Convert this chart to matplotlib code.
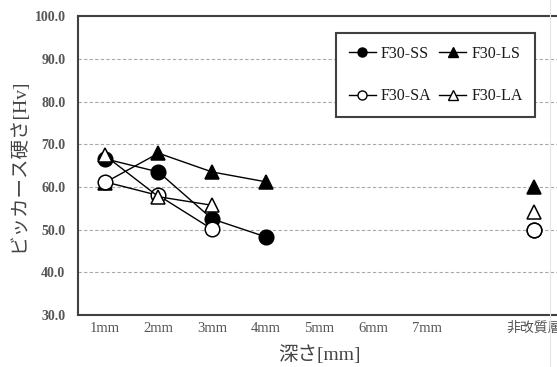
import numpy as np
import matplotlib
matplotlib.use("Agg")
import matplotlib.pyplot as plt
from matplotlib.lines import Line2D

plt.rcParams['font.family'] = ['Liberation Serif', 'Noto Sans CJK JP']

# categories along the depth axis (8th slot is empty in the original)
categories = ['1mm', '2mm', '3mm', '4mm', '5mm', '6mm', '7mm', '', '非改質層']
nan = np.nan
ss = [66.6, 63.5, 52.5, 48.3, nan, nan, nan, nan, 49.9]
ls = [61.0, 67.9, 63.5, 61.2, nan, nan, nan, nan, 60.0]
sa = [61.2, 58.0, 50.1, nan, nan, nan, nan, nan, 49.9]
la = [67.4, 57.7, 55.7, nan, nan, nan, nan, nan, 54.2]
yticks = [30, 40, 50, 60, 70, 80, 90, 100]

x = np.arange(1, len(categories) + 1)

fig = plt.figure(figsize=(5.57, 3.67), dpi=100)
ax = fig.add_axes([0.140, 0.1417, 0.867, 0.8143])

axis_col = '#404040'
tick_col = '#555555'

# draw order matters: open markers sit on top of the filled ones
series = [
    ('F30-SS', ss, 'o', 'black', 10.5),
    ('F30-LS', ls, '^', 'black', 9.5),
    ('F30-SA', sa, 'o', 'white', 10.5),
    ('F30-LA', la, '^', 'white', 9.5),
]
for name, vals, mk, fc, ms in series:
    ax.plot(x, vals, color='black', lw=1.0, marker=mk, markersize=ms,
            markerfacecolor=fc, markeredgecolor='black', markeredgewidth=1.1,
            zorder=3)

ax.set_xlim(0.5, len(categories) + 0.5)
ax.set_ylim(30, 100)
ax.set_yticks(yticks)
ax.set_yticklabels(['{:.1f}'.format(v) for v in yticks])
ax.set_xticks(x)
ax.set_xticklabels(categories)

for v in yticks[1:-1]:
    ax.axhline(v, color='#a8a8a8', lw=0.8, ls=(0, (3, 2)), zorder=1)

for s in ax.spines.values():
    s.set_color(axis_col)
    s.set_linewidth(1.5)

ax.tick_params(axis='both', length=0, colors=tick_col, labelsize=10)
ax.tick_params(axis='x', labelsize=10.5)
ax.tick_params(axis='y', pad=9)
ax.tick_params(axis='x', pad=5)
for t in ax.get_yticklabels():
    t.set_fontweight('bold')
ax.get_xticklabels()[-1].set_fontsize(10)

ax.set_ylabel('ビッカース硬さ[Hv]', fontsize=14, color='#444444', labelpad=5)
ax.set_xlabel('深さ[mm]', fontsize=14, color='#444444', labelpad=7)

# legend (handles with smaller markers than the plot)
handles = []
order = [0, 2, 1, 3]
for i in order:
    name, vals, mk, fc, ms = series[i]
    handles.append(Line2D([], [], color='black', lw=1.0, marker=mk,
                          markersize=6.5, markerfacecolor=fc,
                          markeredgecolor='black', markeredgewidth=1.0,
                          label=name))
leg = ax.legend(handles=handles, ncol=2, loc='upper left',
                bbox_to_anchor=(0.534, 0.943), fontsize=11.5, frameon=True,
                fancybox=False, handlelength=1.7, handletextpad=0.3,
                columnspacing=0.5, labelspacing=1.65, borderpad=0.8,
                borderaxespad=0)
leg.get_frame().set_edgecolor(axis_col)
leg.get_frame().set_linewidth(1.5)
leg.get_frame().set_facecolor('white')
leg.get_frame().set_alpha(1)
for t in leg.get_texts():
    t.set_color('#1a1a1a')

# faint border line at the right edge of the picture
fig.add_artist(Line2D([0.987, 0.987], [0.0, 1.0], color='#e4e4e4', lw=0.8))

fig.savefig('out.png', dpi=100)
